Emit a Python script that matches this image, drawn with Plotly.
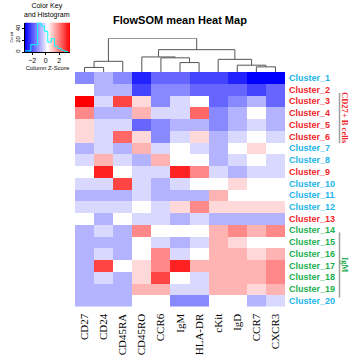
import numpy as np
import plotly.graph_objects as go

W, H = 350, 362

markers = ["CD27", "CD24", "CD45RA", "CD45RO", "CCR6", "IgM", "HLA-DR",
           "cKit", "IgD", "CCR7", "CXCR3"]
clusters = [f"Cluster_{i}" for i in range(1, 21)]

# column z-scores per marker (Cluster_1 .. Cluster_20)
cd27   = [-1.4, 0, 3.0, 1.4, 0.45, 0.45, -0.9, -0.45, 0, -0.45, -0.9, -0.45, 0, -0.9, -0.9, -0.9, -0.9, -0.9, -0.9, -0.9]
cd24   = [-0.9, -0.9, -0.45, -0.9, -0.45, -0.45, -0.45, 0.9, 2.6, -0.45, -0.9, -0.45, -0.9, -0.45, -0.9, -0.45, 2.2, -0.45, -0.9, -0.9]
cd45ra = [-1.4, -0.9, 2.2, -0.9, -0.45, 1.8, -0.9, -0.45, 0, 2.2, -0.9, -0.45, 0, -0.9, -0.9, -0.9, 0, -0.9, -0.9, -0.9]
cd45ro = [-2.6, -2.2, 0.45, 0.9, -1.8, 0.45, 0.9, -0.9, -0.45, -0.45, -0.45, 0, -0.45, 1.4, 0, 0, 0.45, 0.45, 0.9, 0]
ccr6   = [-1.8, -1.4, -1.4, -0.45, -1.4, -1.4, -0.45, 0.9, -0.45, -0.9, -0.9, -0.45, -0.45, 0, -0.45, 1.4, 1.4, 2.2, 0.9, 0]
igm    = [-1.8, -1.4, -0.45, -0.45, -0.9, -0.45, 0, 0, 2.6, -0.45, -0.9, 0.45, -0.9, 0, -0.9, -0.45, 2.6, 0, -0.45, -1.4]
hla_dr = [-2.2, -1.8, 0, 1.8, -0.9, 0.45, -0.45, 0, 1.4, 0, -0.9, 1.4, -0.45, 0, -0.45, 0, 0.9, -0.45, -0.45, -1.4]
ckit   = [-2.2, -1.8, -1.8, -1.4, -1.4, -0.9, -0.9, -0.9, -0.45, 0, 0.9, 0.45, -0.9, 0.9, 0.9, 0.9, 0.9, 0.9, 0.9, 0]
igd    = [-2.6, -1.8, -1.4, -0.9, -0.9, -0.45, 0, -0.45, -0.9, 0.45, 0, 0.45, -0.9, 1.4, 0.45, 0.9, 0.9, 0.9, 0.9, 0]
ccr7   = [-3.0, -2.2, -0.9, 0, -0.45, 0, 0.45, 0, -0.45, 0, 0, 0.45, -0.9, 0.9, 0, 0.45, 0.9, 0.9, 0.45, -0.9]
cxcr3  = [-3.0, -1.8, -1.8, -0.9, -0.9, -0.45, 0, -0.45, -0.45, 0, 0, 0.45, -0.9, 1.4, 0, 0.9, 1.4, 1.4, 0.9, -0.45]

# cluster label groups
cluster_group = ["o", "c", "c", "c", "c", "c", "o", "o", "c", "o",
                 "o", "o", "c", "g", "g", "g", "g", "g", "g", "o"]
group_colors = {"o": "#22B4EA", "c": "#F2242A", "g": "#1DAF4E"}

# column dendrogram merges: (left, right, height); ints are leaf indices,
# strings "mK" refer to earlier merges
merges = [
    (0, 1, 4.7),          # m0 CD27+CD24
    ("m0", 2, 11.0),      # m1
    (5, 6, 9.7),          # m2 IgM+HLA-DR
    (4, "m2", 14.6),      # m3
    (3, "m3", 15.5),      # m4
    (9, 10, 5.3),         # m5 CCR7+CXCR3
    (8, "m5", 7.0),       # m6
    (7, "m6", 13.0),      # m7
    ("m4", "m7", 23.0),   # m8
    ("m1", "m8", 34.7),   # m9
]

cols = [cd27, cd24, cd45ra, cd45ro, ccr6, igm, hla_dr, ckit, igd, ccr7, cxcr3]
z = np.array(cols).T  # rows = clusters

scale = [[0, "#0000FF"], [0.5, "#FFFFFF"], [1, "#FF0000"]]

def px_x(p):
    return p / W

def px_y(p):
    return (H - p) / H

fig = go.Figure()

# main heatmap
fig.add_trace(go.Heatmap(
    z=z, x=markers, y=clusters, colorscale=scale, zmin=-3, zmax=3,
    showscale=False, xaxis="x", yaxis="y", hoverinfo="skip"))

# dendrogram
pos = {}
hts = {}
dx, dy = [], []
def coord(k):
    if isinstance(k, int):
        return float(k), 0.0
    return pos[k], hts[k]
for i, (a, b, h) in enumerate(merges):
    xa, ha = coord(a)
    xb, hb = coord(b)
    dx += [xa, xa, xb, xb, None]
    dy += [ha, h, h, hb, None]
    pos[f"m{i}"] = (xa + xb) / 2
    hts[f"m{i}"] = h
fig.add_trace(go.Scatter(x=dx, y=dy, mode="lines", xaxis="x2", yaxis="y2",
                         line=dict(color="#555555", width=1), hoverinfo="skip",
                         cliponaxis=False, showlegend=False))

# color key with histogram
key_lo, key_hi = -3.07, 3.59
kx = np.linspace(key_lo, key_hi, 121)
kc = (kx[:-1] + kx[1:]) / 2
counts, edges = np.histogram(z.flatten(), bins=np.linspace(-3.2, 3.3, 14))
ymax = counts.max() * 1.02
fig.add_trace(go.Heatmap(z=[kc], x=kx, y=[0, ymax], colorscale=scale,
                         zmin=key_lo, zmax=key_hi, showscale=False,
                         xaxis="x3", yaxis="y3", hoverinfo="skip"))
hx = list(edges)
hy = list(counts) + [counts[-1]]
fig.add_trace(go.Scatter(x=hx, y=hy, mode="lines", line=dict(color="#00FFFF", width=1, shape="hv"),
                         xaxis="x3", yaxis="y3", hoverinfo="skip", showlegend=False))

ticktext = [f"<span style='color:{group_colors[g]}'><b>{c}</b></span>"
            for c, g in zip(clusters, cluster_group)]

fig.update_layout(
    width=W, height=H, margin=dict(l=0, r=0, t=0, b=0),
    paper_bgcolor="white", plot_bgcolor="white", showlegend=False,
    xaxis=dict(domain=[px_x(75), px_x(285)], tickangle=-90, ticks="",
               tickfont=dict(family="Liberation Serif", size=11, color="black"),
               ticklabelstandoff=4, showgrid=False, zeroline=False, showline=False),
    yaxis=dict(domain=[px_y(306.5), px_y(72)], side="right", autorange="reversed",
               tickvals=clusters, ticktext=ticktext, ticks="",
               tickfont=dict(family="Liberation Sans", size=9), ticklabelstandoff=3,
               showgrid=False, zeroline=False, showline=False),
    xaxis2=dict(domain=[px_x(75), px_x(285)], range=[-0.5, 10.5], visible=False),
    yaxis2=dict(domain=[px_y(72), px_y(38.3)], range=[0, 34.7], visible=False),
    xaxis3=dict(domain=[px_x(25), px_x(70)], range=[key_lo, key_hi], anchor="y3",
                tickvals=[-2, 0, 2], ticktext=["\u22122", "0", "2"], ticks="outside",
                ticklen=2, tickwidth=0.7, tickcolor="black",
                tickfont=dict(family="Liberation Sans", size=7, color="black"),
                showgrid=False, zeroline=False, showline=True, linecolor="black", linewidth=0.7,
                title=dict(text="Column Z-Score", font=dict(family="Liberation Sans", size=6, color="black"),
                           standoff=2)),
    yaxis3=dict(domain=[px_y(52), px_y(22.5)], range=[0, ymax], anchor="x3",
                dtick=20, ticks="outside", ticklen=2, tickwidth=0.7, tickcolor="black",
                tickangle=-90, tickfont=dict(family="Liberation Sans", size=6, color="black"),
                showgrid=False, zeroline=False, showline=True, linecolor="black", linewidth=0.7,
                title=dict(text="Count", font=dict(family="Liberation Sans", size=4, color="black"),
                           standoff=1)),
)

fig.add_annotation(text="<b>FlowSOM mean Heat Map</b>", x=px_x(180), y=px_y(20),
                   xref="paper", yref="paper", showarrow=False, xanchor="center", yanchor="middle",
                   font=dict(family="Liberation Sans", size=11, color="black"))
fig.add_annotation(text="Color Key<br>and Histogram", x=px_x(47), y=px_y(11),
                   xref="paper", yref="paper", showarrow=False, xanchor="center", yanchor="middle",
                   font=dict(family="Liberation Sans", size=7, color="black"))

# group brackets
brackets = [("CD27+ B cells", 1.29, 5.57, "#F2242A"), ("IgM", 13.18, 18.73, "#1DAF4E")]
for label, y0, y1, col in brackets:
    fig.add_shape(type="line", xref="paper", yref="y", x0=px_x(339.5), x1=px_x(339.5),
                  y0=y0, y1=y1, line=dict(color="#A0A0A0", width=1.5))
    fig.add_annotation(text=f"<b>{label}</b>", xref="paper", yref="y",
                       x=px_x(345), y=(y0 + y1) / 2, textangle=90, showarrow=False,
                       xanchor="center", yanchor="middle",
                       font=dict(family="Liberation Serif", size=8.5, color=col))

fig.write_html("out.html", config={"displayModeBar": False},
               post_script="document.body.style.margin='0';document.body.style.overflow='hidden';")
